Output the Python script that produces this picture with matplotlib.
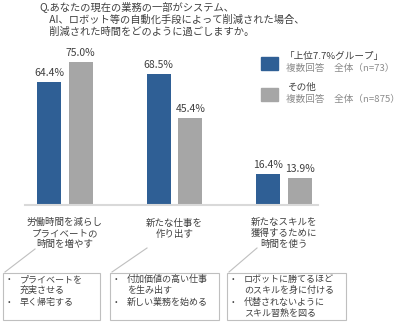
import matplotlib
matplotlib.use("Agg")
import matplotlib.pyplot as plt
from matplotlib.patches import Rectangle
from matplotlib.lines import Line2D

plt.rcParams['font.family'] = ['Noto Sans CJK JP', 'DejaVu Sans']

# Data
categories = ["労働時間を減らし\nプライベートの\n時間を増やす",
              "新たな仕事を\n作り出す",
              "新たなスキルを\n獲得するために\n時間を使う"]
top_group = [64.4, 68.5, 16.4]
others = [75.0, 45.4, 13.9]
series_names = ["「上位7.7%グループ」", "その他"]
series_notes = ["複数回答　全体（n=73）", "複数回答　全体（n=875）"]
details = [
    [("プライベートを", True), ("充実させる", False), ("早く帰宅する", True)],
    [("付加価値の高い仕事", True), ("を生み出す", False), ("新しい業務を始める", True)],
    [("ロボットに勝てるほど", True), ("のスキルを身に付ける", False),
     ("代替されないように", True), ("スキル習熟を図る", False)],
]
title = "Q.あなたの現在の業務の一部がシステム、\n　AI、ロボット等の自動化手段によって削減された場合、\n　削減された時間をどのように過ごしますか。"

BLUE = "#2F5F95"
GRAY = "#A6A6A6"
TEXT = "#404040"

W, H = 400, 324
fig = plt.figure(figsize=(W / 100, H / 100), dpi=100)


def fx(px):
    return px / W


def fy(py):
    return 1 - py / H


# Bar axes (pixel geometry)
ax_left, ax_right, ax_top, ax_bottom = 25, 318, 52.4, 205
ax = fig.add_axes([fx(ax_left), fy(ax_bottom), fx(ax_right - ax_left), (ax_bottom - ax_top) / H])
ax.set_xlim(-0.365, 2.31)
ax.set_ylim(0, 80)
x = list(range(len(categories)))
bw = 0.22
off = 0.144
b1 = ax.bar([i - off for i in x], top_group, width=bw, color=BLUE)
b2 = ax.bar([i + off for i in x], others, width=bw, color=GRAY)
for bars, vals in ((b1, top_group), (b2, others)):
    for rect, v in zip(bars, vals):
        ax.text(rect.get_x() + rect.get_width() / 2, v + 2.2, f"{v:.1f}%",
                ha="center", va="bottom", fontsize=7.5, color=TEXT)
for s in ("top", "right", "left"):
    ax.spines[s].set_visible(False)
ax.spines["bottom"].set_color("#D9D9D9")
ax.spines["bottom"].set_linewidth(1.5)
ax.set_yticks([])
ax.set_xticks(x)
ax.set_xticklabels(categories, fontsize=6.8, color=TEXT, linespacing=1.25)
ax.tick_params(axis="x", length=0, pad=9.5)

# Title
fig.text(fx(39), fy(1), title, ha="left", va="top", fontsize=7.4, color=TEXT, linespacing=1.3)

# Legend
for i, (name, note, col) in enumerate(zip(series_names, series_notes, [BLUE, GRAY])):
    y0 = 57 + i * 31
    fig.patches.append(Rectangle((fx(261), fy(y0 + 13)), fx(17), 13 / H,
                                 transform=fig.transFigure, color=col))
    fig.text(fx(285 if i == 0 else 287), fy(y0 - 1), name, ha="left", va="center",
             fontsize=6.9, color=TEXT)
    fig.text(fx(286), fy(y0 + 11.5), note, ha="left", va="center", fontsize=6.9, color="#8C8C8C")

# Detail boxes with connector lines
boxes = [(3, 100), (110, 219), (227, 346)]
anchors = [(35, 249), (147, 248), (257, 248)]
for (l, r), (ax_, ay_), items in zip(boxes, anchors, details):
    fig.patches.append(Rectangle((fx(l), fy(320)), fx(r - l), 47 / H,
                                 transform=fig.transFigure, fill=False,
                                 edgecolor="#BFBFBF", linewidth=0.8))
    fig.lines.append(Line2D([fx(l + 2), fx(ax_)], [fy(272), fy(ay_)],
                            transform=fig.transFigure, color="#BFBFBF", linewidth=0.8))
    for k, (line, bullet) in enumerate(items):
        yy = 279.5 + k * 11.3
        if bullet:
            fig.text(fx(l + 5), fy(yy), "•", ha="left", va="center", fontsize=5.5, color=TEXT)
        fig.text(fx(l + 17), fy(yy), line, ha="left", va="center", fontsize=6.5, color=TEXT)

fig.savefig("out.png", dpi=100)
